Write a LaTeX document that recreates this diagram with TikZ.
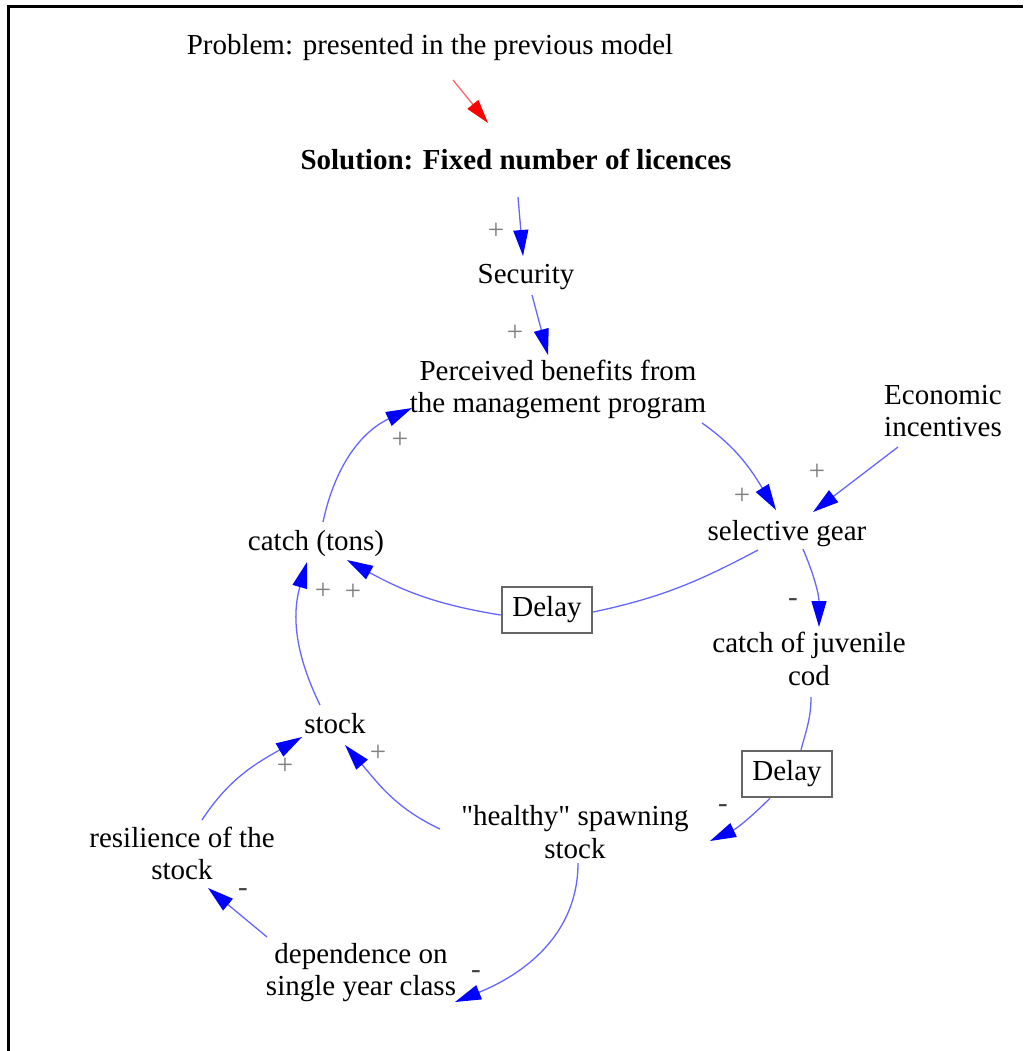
\documentclass[tikz,border=0pt]{standalone}
\usepackage{fontspec}
\setmainfont{Liberation Serif}[Ligatures=TeXOff]
\usepackage{tikz}
\usetikzlibrary{arrows.meta}
\newcommand{\cldfont}{\fontsize{29}{32.5}\selectfont}

\tikzset{
  var/.style={align=center, inner sep=0pt, font=\cldfont},
  delaybox/.style={draw=black!60, line width=2.4pt, minimum width=90pt, minimum height=46pt, inner sep=0pt, font=\cldfont},
  link/.style={draw=blue!60, line width=1.3pt, -{Triangle[length=26pt,width=15pt,color=blue]}},
  plain/.style={draw=blue!60, line width=1.3pt},
  redlink/.style={draw=red!60, line width=1.3pt, -{Triangle[length=24pt,width=14pt,color=red]}},
  plus/.style={inner sep=0pt, font=\cldfont, text=black!50},
  minus/.style={inner sep=0pt, font=\cldfont, text=black!75},
}

\begin{document}
\begin{tikzpicture}[x=1pt, y=1pt]
  \useasboundingbox (0,0) rectangle (1023,-1051);
  \draw[line width=2.8pt] (8.5,-1051) -- (8.5,-6.2) -- (1023,-6.2);

  % variables
  \node[var, anchor=base] (prob) at (430,-55) {Problem: presented in the previous model};
  \node[var, anchor=base, font=\cldfont\bfseries] (sol) at (516,-170) {Solution: Fixed number of licences};
  \node[var, anchor=base] (sec) at (526,-283) {Security};
  \node[var] (perc) at (558,-389.5) {Perceived benefits from\\the management program};
  \node[var] (econ) at (943,-411) {Economic\\incentives};
  \node[var, anchor=base] (gear) at (787,-540) {selective gear};
  \node[var] (juv) at (809,-659) {catch of juvenile\\cod};
  \node[delaybox] (delB) at (787,-774) {Delay};
  \node[var] (spawn) at (575,-832) {"healthy" spawning\\stock};
  \node[var] (dep) at (361,-972.5) {dependence on\\single year class};
  \node[var] (res) at (182,-853.5) {resilience of the\\stock};
  \node[var, anchor=base] (stock) at (335,-733) {stock};
  \node[var, anchor=base] (catch) at (316,-550) {catch (tons)};
  \node[delaybox] (delA) at (547,-610) {Delay};

  % links
  \draw[redlink] ([shift={(23,-25)}]prob.base) -- ([shift={(-28,47)}]sol.base);
  \draw[link] ([shift={(2,-27)}]sol.base) -- ([shift={(-3,27)}]sec.base);
  \draw[link] ([shift={(6,-12)}]sec.base) -- ([shift={(-10,34.5)}]perc.center);
  \draw[link] ([shift={(144,-33.5)}]perc.center) to[out=-35, in=122] ([shift={(-11,30)}]gear.base);
  \draw[link] ([shift={(-45,-36)}]econ.center) -- ([shift={(26,28)}]gear.base);
  \draw[link] ([shift={(16,-9)}]gear.base) to[out=-67, in=90] ([shift={(10,32)}]juv.center);
  \draw[plain] ([shift={(2,-38)}]juv.center) to[out=-90, in=75] ([xshift=14pt]delB.north);
  \draw[link] ([xshift=-17pt]delB.south) to[out=-135, in=25] ([shift={(135,-9)}]spawn.center);
  \draw[link] ([shift={(3,-31)}]spawn.center) to[out=-90, in=22] ([shift={(94,-29.5)}]dep.center);
  \draw[link] ([shift={(-94,35.5)}]dep.center) -- ([shift={(26,-34.5)}]res.center);
  \draw[link] ([shift={(20,33.5)}]res.center) to[out=57, in=210] ([shift={(-33,-4)}]stock.base);
  \draw[link] ([shift={(-135,3)}]spawn.center) to[out=155, in=-49] ([shift={(10,-12)}]stock.base);
  \draw[link] ([shift={(-15,28)}]stock.base) to[out=116, in=-106] ([shift={(-9,-12)}]catch.base);
  \draw[link] ([yshift=-5pt]delA.west) to[out=171, in=-29] ([shift={(31,-10)}]catch.base);
  \draw[plain] ([shift={(-29,-10)}]gear.base) to[out=-152, in=12] ([yshift=-2pt]delA.east);
  \draw[link] ([shift={(7,28)}]catch.base) to[out=78, in=-155] ([shift={(-146,-18.5)}]perc.center);

  % polarities
  \foreach \p [count=\i] in {(496,-231),(515,-333),(742,-496),(817,-472),(285,-766),(378,-753),(323,-591),(353,-592),(400,-440)}
    \node[plus] (p\i) at \p {+};
  \foreach \p [count=\i] in {(793,-603),(723,-809),(476,-975),(243,-893)}
    \node[minus] (m\i) at \p {-};
\end{tikzpicture}
\end{document}
